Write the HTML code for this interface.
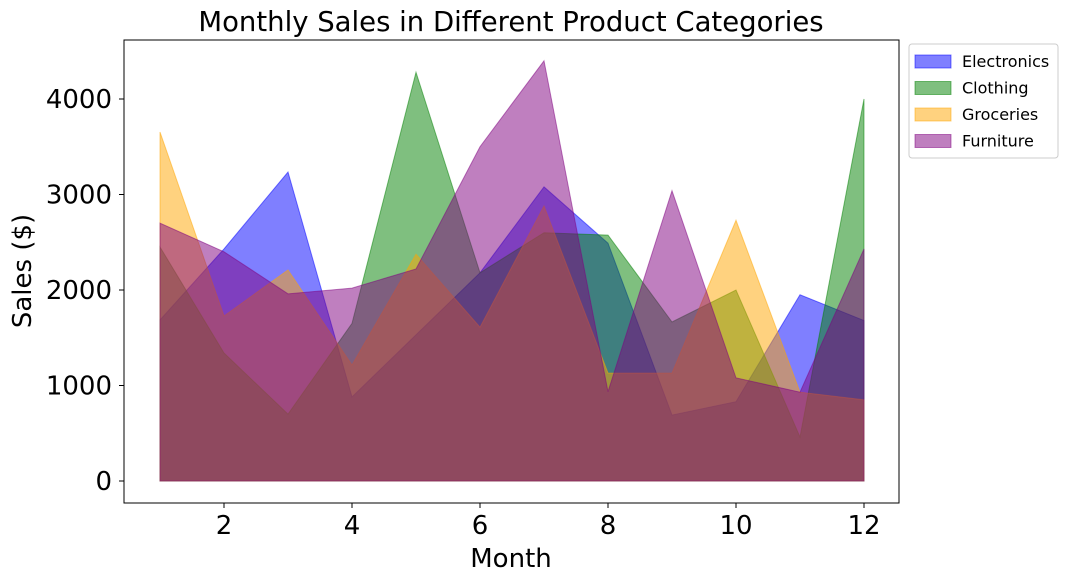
<!DOCTYPE html>
<html><head><meta charset="utf-8"><style>
body{margin:0;background:#fff;font-family:"DejaVu Sans",sans-serif}
svg text{font-family:"DejaVu Sans",sans-serif}
</style></head><body>
<svg id="chart" width="1068" height="583">
<text x="511" y="31" font-size="27.5" text-anchor="middle">Monthly Sales in Different Product Categories</text>
<g id="areas"></g>
<rect x="124" y="40" width="775" height="463" fill="none" stroke="#000" stroke-width="1"/>
<g id="xt"></g>
<g id="yt"></g>
<text x="511" y="567" font-size="26" text-anchor="middle">Month</text>
<text transform="translate(31,271) rotate(-90)" font-size="26" text-anchor="middle">Sales ($)</text>
<g id="legend">
<rect x="909" y="44" width="149" height="114" rx="3" fill="#fff" stroke="#ccc"/>
</g>
</svg>
<script>
const months=[1,2,3,4,5,6,7,8,9,10,11,12];
const electronics=[1686,2430,3235,880,1530,2180,3080,2490,690,830,1950,1680];
const clothing=[2450,1340,700,1650,4280,2180,2600,2575,1665,2000,460,4000];
const groceries=[3654,1728,2210,1215,2375,1610,2880,1130,1130,2730,930,850];
const furniture=[2700,2400,1960,2020,2220,3500,4400,935,3040,1080,930,2430];
const seriesNames=["Electronics","Clothing","Groceries","Furniture"];
const xTicks=[2,4,6,8,10,12];
const yTicks=[0,1000,2000,3000,4000];
const NS="http://www.w3.org/2000/svg";
const sx=m=>160+(m-1)*64;
const sy=v=>481-v*0.0955;
const series=[electronics,clothing,groceries,furniture];
const fills=["blue","green","orange","purple"];
const areas=document.getElementById('areas');
series.forEach((s,i)=>{
  let d="M"+sx(months[0])+","+sy(0);
  s.forEach((v,j)=>{d+=" L"+sx(months[j])+","+sy(v);});
  d+=" L"+sx(months[months.length-1])+","+sy(0)+" Z";
  const p=document.createElementNS(NS,'path');
  p.setAttribute('d',d);p.setAttribute('fill',fills[i]);p.setAttribute('fill-opacity','0.5');
  p.setAttribute('stroke',fills[i]);p.setAttribute('stroke-opacity','0.5');
  
  
  areas.appendChild(p);
});
const xt=document.getElementById('xt');
xTicks.forEach(t=>{
  const l=document.createElementNS(NS,'line');
  l.setAttribute('x1',sx(t));l.setAttribute('x2',sx(t));l.setAttribute('y1',503);l.setAttribute('y2',508);l.setAttribute('stroke','#000');
  xt.appendChild(l);
  const tx=document.createElementNS(NS,'text');
  tx.setAttribute('x',sx(t));tx.setAttribute('y',534);tx.setAttribute('font-size','26');tx.setAttribute('text-anchor','middle');
  tx.textContent=t;
  
  
  xt.appendChild(tx);
});
const yt=document.getElementById('yt');
yTicks.forEach(t=>{
  const l=document.createElementNS(NS,'line');
  l.setAttribute('x1',119);l.setAttribute('x2',124);l.setAttribute('y1',sy(t));l.setAttribute('y2',sy(t));l.setAttribute('stroke','#000');
  yt.appendChild(l);
  const tx=document.createElementNS(NS,'text');
  tx.setAttribute('x',112);tx.setAttribute('y',sy(t)+9);tx.setAttribute('font-size','26');tx.setAttribute('text-anchor','end');
  tx.textContent=t;
  
  
  yt.appendChild(tx);
});
const lg=document.getElementById('legend');
seriesNames.forEach((n,i)=>{
  const y=55+i*26.5;
  const r=document.createElementNS(NS,'rect');
  r.setAttribute('x',915);r.setAttribute('y',y);r.setAttribute('width',36);r.setAttribute('height',13);
  r.setAttribute('fill',fills[i]);r.setAttribute('fill-opacity','0.5');r.setAttribute('stroke',fills[i]);r.setAttribute('stroke-opacity','0.5');
  
  
  lg.appendChild(r);
  const tx=document.createElementNS(NS,'text');
  tx.setAttribute('x',962);tx.setAttribute('y',y+12);tx.setAttribute('font-size','16');
  tx.textContent=n;
  
  
  lg.appendChild(tx);
});
</script>
</body></html>
